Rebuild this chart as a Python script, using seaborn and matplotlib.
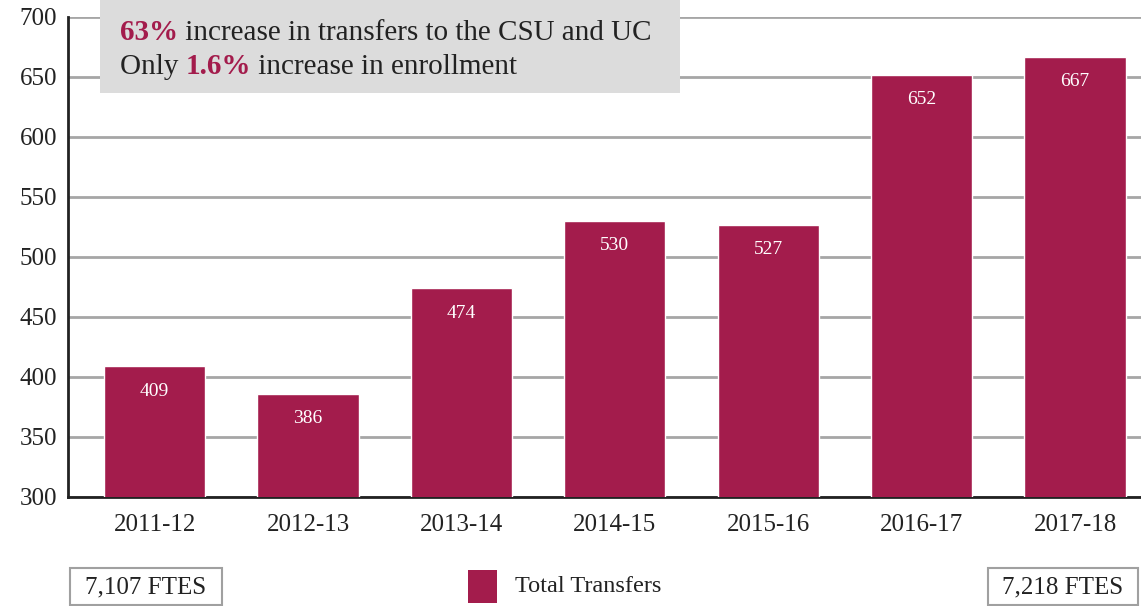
import matplotlib.pyplot as plt
from matplotlib.text import Annotation
import seaborn as sns
import pandas as pd

# -----------------------------
# DATA
# -----------------------------
years = ["2011-12", "2012-13", "2013-14", "2014-15", "2015-16", "2016-17", "2017-18"]
transfers = [409, 386, 474, 530, 527, 652, 667]
yticks = [300, 350, 400, 450, 500, 550, 600, 650, 700]
ftes_start = "7,107 FTES"
ftes_end = "7,218 FTES"

BAR_COLOR = "#A31C4C"
GRID_COLOR = "#A6A6A6"
TEXT_COLOR = "#222222"

sns.set_theme(style="white")
plt.rcParams["font.family"] = ["Liberation Serif", "DejaVu Serif"]

df = pd.DataFrame({"year": years, "transfers": transfers})

fig = plt.figure(figsize=(11.41, 6.06), dpi=100)
ax = fig.add_axes([0.0596, 0.18, 0.9404, 0.792])

sns.barplot(data=df, x="year", y="transfers", color=BAR_COLOR, width=0.66,
            saturation=1, ax=ax, zorder=3)

ax.set_ylim(300, 700)
ax.set_xlim(-0.565, 6.43)
ax.set_yticks(yticks)
ax.yaxis.grid(True, color=GRID_COLOR, linewidth=2)
ax.set_axisbelow(True)
ax.set_xlabel("")
ax.set_ylabel("")
ax.tick_params(axis="both", labelsize=18, colors=TEXT_COLOR, length=0)
ax.tick_params(axis="x", pad=12)
ax.tick_params(axis="y", pad=8)
for side in ["top", "right"]:
    ax.spines[side].set_visible(False)
for side in ["left", "bottom"]:
    ax.spines[side].set_color("#222222")
    ax.spines[side].set_linewidth(2)

# value labels inside bars
for i, v in enumerate(transfers):
    ax.annotate(str(v), (i, v), xytext=(0, -18), textcoords="offset points",
                ha="center", va="center", color="white", fontsize=14, zorder=4)

# -----------------------------
# CALLOUT BOX
# -----------------------------
box = plt.Rectangle((100 / 1141, 1 - 93 / 606), 580 / 1141, 93 / 606,
                    transform=fig.transFigure, facecolor="#DCDCDC",
                    edgecolor="none", zorder=10)
fig.add_artist(box)


def chain(prev, s, **kw):
    a = Annotation(s, xy=(1, 0), xycoords=prev, va="bottom", ha="left",
                   fontsize=21, annotation_clip=False, zorder=11, **kw)
    fig.add_artist(a)
    return a


t1 = fig.text(120 / 1141, 1 - 40 / 606, "63%", fontsize=21, fontweight="bold",
              color=BAR_COLOR, va="baseline", zorder=11)
chain(t1, " increase in transfers to the CSU and UC", color=TEXT_COLOR)
t2 = fig.text(120 / 1141, 1 - 74 / 606, "Only ", fontsize=21, color=TEXT_COLOR,
              va="baseline", zorder=11)
t3 = chain(t2, "1.6%", color=BAR_COLOR, fontweight="bold")
chain(t3, " increase in enrollment", color=TEXT_COLOR)

# -----------------------------
# BOTTOM ROW
# -----------------------------
for x0, w, label in [(70, 152, ftes_start), (988, 150, ftes_end)]:
    fig.add_artist(plt.Rectangle((x0 / 1141, 1 - 605 / 606), w / 1141, 37 / 606,
                                 transform=fig.transFigure, facecolor="white",
                                 edgecolor="#A0A0A0", linewidth=1.5))
    fig.text((x0 + w / 2) / 1141, 1 - 587 / 606, label, fontsize=18, ha="center",
             va="center", color=TEXT_COLOR)

leg_patch = plt.Rectangle((468 / 1141, 1 - 603 / 606), 29 / 1141, 33 / 606,
                          transform=fig.transFigure, facecolor=BAR_COLOR, edgecolor="none")
fig.add_artist(leg_patch)
fig.text(515 / 1141, 1 - 587 / 606, "Total Transfers", fontsize=17.5, ha="left",
         va="center", color=TEXT_COLOR)

fig.savefig("out.png", dpi=100)
